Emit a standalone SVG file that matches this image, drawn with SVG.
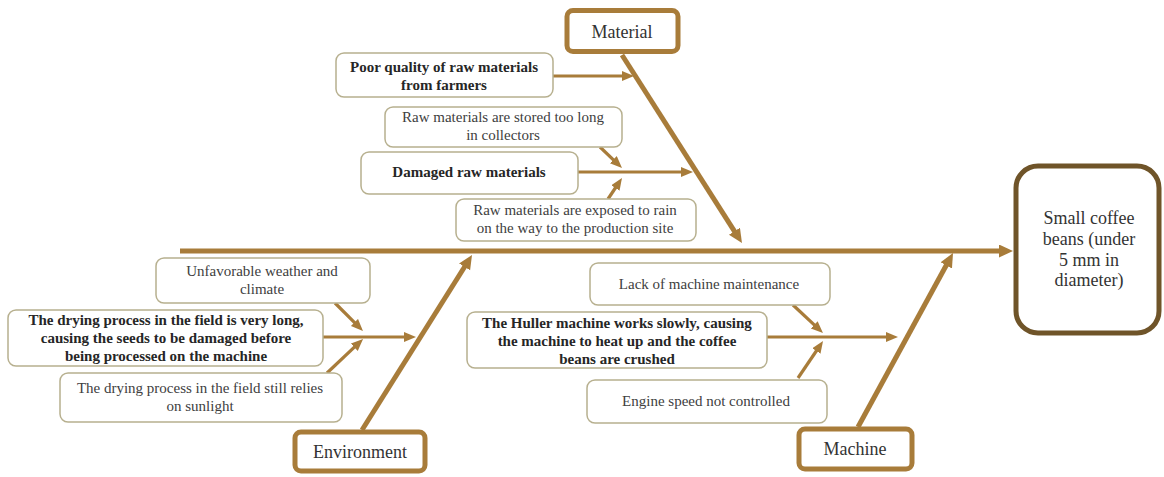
<svg xmlns="http://www.w3.org/2000/svg" width="1164" height="477" viewBox="0 0 1164 477" font-family="'Liberation Serif', serif">
<style>
.bg{fill:#ffffff}
.cause{fill:#ffffff;stroke:#b7b08f;stroke-width:1.5}
.cat{fill:#ffffff;stroke:#a87c3a;stroke-width:5}
.eff{fill:#ffffff;stroke:#6f5429;stroke-width:5}
.bone{stroke:#a87c3a;stroke-width:5;fill:none}
.sub{stroke:#a87c3a;stroke-width:3.2;fill:none}
text{text-anchor:middle}
.t{font-size:15px;fill:#404040}
.b{font-size:15px;font-weight:bold;fill:#262626}
.c{font-size:18px;fill:#333333}
</style>
<defs>
<marker id="big" markerUnits="userSpaceOnUse" markerWidth="16" markerHeight="14" refX="4" refY="6.5" orient="auto">
<path d="M0,0 L14,6.5 L0,13 z" fill="#a87c3a"/>
</marker>
<marker id="small" markerUnits="userSpaceOnUse" markerWidth="14" markerHeight="12" refX="3" refY="5" orient="auto">
<path d="M0,0 L12,5 L0,10 z" fill="#a87c3a"/>
</marker>
</defs>
<rect class="bg" x="0" y="0" width="1164" height="477"/>

<g id="connectors">
<line class="bone" x1="180" y1="251" x2="1003" y2="251" marker-end="url(#big)"/>
<line class="bone" x1="622" y1="55" x2="736.6" y2="234.6" marker-end="url(#big)"/>
<line class="bone" x1="362" y1="430" x2="466.7" y2="263.5" marker-end="url(#big)"/>
<line class="bone" x1="858" y1="427" x2="948.2" y2="261.8" marker-end="url(#big)"/>
<line class="sub" x1="553" y1="76" x2="625" y2="76" marker-end="url(#small)"/>
<line class="sub" x1="578" y1="172" x2="684" y2="172" marker-end="url(#small)"/>
<line class="sub" x1="600" y1="147" x2="615.5" y2="161.8" marker-end="url(#small)"/>
<line class="sub" x1="608" y1="199" x2="617" y2="185.5" marker-end="url(#small)"/>
<line class="sub" x1="323" y1="337" x2="407" y2="337" marker-end="url(#small)"/>
<line class="sub" x1="335" y1="303" x2="356.6" y2="324.6" marker-end="url(#small)"/>
<line class="sub" x1="327" y1="373" x2="356.5" y2="345.2" marker-end="url(#small)"/>
<line class="sub" x1="767" y1="337" x2="889" y2="337" marker-end="url(#small)"/>
<line class="sub" x1="793" y1="305" x2="816.4" y2="326.9" marker-end="url(#small)"/>
<line class="sub" x1="798" y1="378" x2="818" y2="348.5" marker-end="url(#small)"/>
</g>

<g id="effect">
<rect class="eff" x="1016" y="166" width="143" height="167" rx="22"/>
<text class="c" x="1089" y="224">Small coffee</text>
<text class="c" x="1089" y="245">beans (under</text>
<text class="c" x="1089" y="266">5 mm in</text>
<text class="c" x="1089" y="286">diameter)</text>
</g>

<g id="material">
<rect class="cat" x="567" y="10.5" width="111" height="41" rx="6"/>
<text class="c" x="622" y="38">Material</text>
</g>
<g id="environment">
<rect class="cat" x="295" y="432" width="130" height="39" rx="6"/>
<text class="c" x="360" y="458">Environment</text>
</g>
<g id="machine">
<rect class="cat" x="799" y="429" width="113" height="40" rx="6"/>
<text class="c" x="855" y="455">Machine</text>
</g>

<g id="cause-poor-quality">
<rect class="cause" x="336" y="53" width="217" height="44" rx="8"/>
<text class="b" x="444" y="72">Poor quality of raw materials</text>
<text class="b" x="444" y="90">from farmers</text>
</g>
<g id="cause-stored-too-long">
<rect class="cause" x="385" y="107" width="237" height="40" rx="8"/>
<text class="t" x="503" y="122">Raw materials  are stored too long</text>
<text class="t" x="503" y="140">in collectors</text>
</g>
<g id="cause-damaged">
<rect class="cause" x="361" y="152" width="217" height="42" rx="8"/>
<text class="b" x="469" y="177">Damaged raw materials</text>
</g>
<g id="cause-exposed-rain">
<rect class="cause" x="456" y="199" width="240" height="42" rx="8"/>
<text class="t" x="575" y="215">Raw materials  are exposed to rain</text>
<text class="t" x="575" y="233">on the way to the production site</text>
</g>

<g id="cause-weather">
<rect class="cause" x="156" y="258" width="214" height="45" rx="8"/>
<text class="t" x="262" y="276">Unfavorable  weather and</text>
<text class="t" x="262" y="294">climate</text>
</g>
<g id="cause-drying-long">
<rect class="cause" x="8" y="310" width="315" height="56" rx="8"/>
<text class="b" x="166" y="325">The drying process in the field is very long,</text>
<text class="b" x="166" y="343">causing the seeds to be damaged before</text>
<text class="b" x="166" y="361">being processed on the machine</text>
</g>
<g id="cause-sunlight">
<rect class="cause" x="60" y="373" width="282" height="49" rx="8"/>
<text class="t" x="200" y="393">The drying process in the field still relies</text>
<text class="t" x="200" y="411">on sunlight</text>
</g>

<g id="cause-maintenance">
<rect class="cause" x="590" y="263" width="240" height="42" rx="8"/>
<text class="t" x="709" y="289">Lack  of machine maintenance</text>
</g>
<g id="cause-huller">
<rect class="cause" x="467" y="312" width="300" height="56" rx="8"/>
<text class="b" x="617" y="328">The Huller machine works slowly, causing</text>
<text class="b" x="617" y="346">the machine to heat up and the coffee</text>
<text class="b" x="617" y="364">beans are crushed</text>
</g>
<g id="cause-engine">
<rect class="cause" x="587" y="380" width="240" height="43" rx="8"/>
<text class="t" x="706" y="406">Engine speed not controlled</text>
</g>
</svg>
